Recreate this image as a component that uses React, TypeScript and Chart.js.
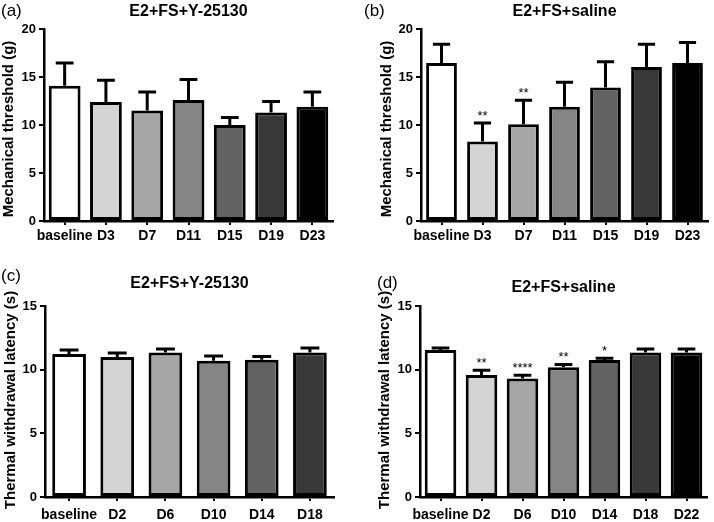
import React, { useEffect, useRef } from "react";
import { Chart, registerables } from "chart.js";
Chart.register(...registerables);

// ---- data ----
const mechLabels = ["baseline", "D3", "D7", "D11", "D15", "D19", "D23"];
const mechYMean = [14.1, 12.4, 11.5, 12.6, 10.0, 11.3, 11.9];
const mechYSem = [2.35, 2.25, 1.95, 2.15, 0.77, 1.15, 1.53];
const mechYSig = ["", "", "", "", "", "", ""];

const mechSMean = [16.45, 8.27, 10.07, 11.9, 13.9, 16.05, 16.45];
const mechSSem = [1.95, 1.93, 2.5, 2.55, 2.7, 2.35, 2.14];
const mechSSig = ["", "**", "**", "", "", "", ""];

const thermYLabels = ["baseline", "D2", "D6", "D10", "D14", "D18"];
const thermYMean = [11.24, 11.0, 11.34, 10.7, 10.77, 11.34];
const thermYSem = [0.3, 0.3, 0.28, 0.38, 0.26, 0.36];
const thermYSig = ["", "", "", "", "", ""];

const thermSLabels = ["baseline", "D2", "D6", "D10", "D14", "D18", "D22"];
const thermSMean = [11.55, 9.59, 9.3, 10.18, 10.75, 11.34, 11.34];
const thermSSem = [0.15, 0.36, 0.26, 0.23, 0.15, 0.28, 0.28];
const thermSSig = ["", "**", "****", "**", "*", "", ""];

const grays7 = ["#ffffff", "#d4d4d4", "#a6a6a6", "#858585", "#626262", "#383838", "#000000"];
const grays6 = ["#ffffff", "#d4d4d4", "#a6a6a6", "#858585", "#626262", "#383838"];

const FONT = '"Liberation Sans", Arial, sans-serif';

type PanelProps = {
  x: number; y: number; w: number; h: number;
  labels: string[]; mean: number[]; sem: number[]; sig: string[]; colors: string[];
  title: string; letter: string; yTitle: string;
  yMax: number; yStep: number;
  area: { left: number; right: number; top: number; bottom: number };
  titleY: number; letterX: number; letterY: number;
  yTitleX: number; yTitleY: number; xLabelPad: number; barPct: number;
};

function Panel(p: PanelProps) {
  const ref = useRef<HTMLCanvasElement | null>(null);
  useEffect(() => {
    if (!ref.current) return;
    const overlay = {
      id: "overlay",
      afterDatasetsDraw(chart: any) {
        const ctx = chart.ctx as CanvasRenderingContext2D;
        const meta = chart.getDatasetMeta(0);
        const ys = chart.scales.y;
        ctx.save();
        ctx.strokeStyle = "#000";
        ctx.fillStyle = "#000";
        ctx.lineWidth = 3;
        meta.data.forEach((bar: any, i: number) => {
          const bx = bar.x;
          const top = ys.getPixelForValue(p.mean[i] + p.sem[i]);
          const base = ys.getPixelForValue(p.mean[i]);
          const half = bar.width * 0.28;
          ctx.beginPath();
          ctx.moveTo(bx, base);
          ctx.lineTo(bx, top);
          ctx.moveTo(bx - half, top);
          ctx.lineTo(bx + half, top);
          ctx.stroke();
          if (p.sig[i]) {
            ctx.font = "13px " + FONT;
            ctx.textAlign = "center";
            ctx.textBaseline = "alphabetic";
            ctx.fillText(p.sig[i], bx, top - 3);
          }
        });
        const ca = chart.chartArea;
        ctx.font = "bold 16px " + FONT;
        ctx.textAlign = "center";
        ctx.textBaseline = "middle";
        ctx.fillText(p.title, (ca.left + ca.right) / 2, p.titleY);
        ctx.font = "17px " + FONT;
        ctx.textAlign = "left";
        ctx.fillText(p.letter, p.letterX, p.letterY);
        ctx.save();
        ctx.translate(p.yTitleX, p.yTitleY);
        ctx.rotate(-Math.PI / 2);
        ctx.font = "bold 15px " + FONT;
        ctx.textAlign = "center";
        ctx.fillText(p.yTitle, 0, 0);
        ctx.restore();
        ctx.restore();
      },
    };
    const chart = new Chart(ref.current, {
      type: "bar",
      data: {
        labels: p.labels,
        datasets: [
          {
            data: p.mean,
            backgroundColor: p.colors,
            borderColor: "#000",
            borderWidth: 3,
            borderSkipped: false,
            barPercentage: p.barPct,
            categoryPercentage: 1,
          },
        ],
      },
      options: {
        responsive: false,
        animation: false,
        devicePixelRatio: 1,
        layout: {
          padding: { left: 0, top: p.area.top, right: p.w - p.area.right, bottom: 0 },
        },
        plugins: { legend: { display: false }, tooltip: { enabled: false }, title: { display: false } },
        scales: {
          x: {
            grid: { display: true, drawOnChartArea: false, offset: false, tickLength: 4, color: "#000", tickColor: "#000", tickWidth: 2, lineWidth: 2 },
            border: { display: true, color: "#000", width: 2.5 },
            ticks: { color: "#000", font: { size: 14, weight: "bold", family: FONT }, padding: p.xLabelPad, maxRotation: 0, autoSkip: false },
            afterFit: (s: any) => { s.height = p.h - p.area.bottom; },
          },
          y: {
            min: 0,
            max: p.yMax,
            grid: { display: true, drawOnChartArea: false, tickLength: 5, color: "#000", tickColor: "#000", tickWidth: 2, lineWidth: 2 },
            border: { display: true, color: "#000", width: 2.5 },
            ticks: { stepSize: p.yStep, color: "#000", font: { size: 13, weight: "bold", family: FONT }, padding: 3 },
            afterFit: (s: any) => { s.width = p.area.left; },
          },
        },
      },
      plugins: [overlay],
    } as any);
    return () => chart.destroy();
  }, []);
  return (
    <canvas
      ref={ref}
      width={p.w}
      height={p.h}
      style={{ position: "absolute", left: p.x, top: p.y, width: p.w, height: p.h }}
    />
  );
}

export default function App() {
  return (
    <div style={{ position: "absolute", left: 0, top: 0, width: 714, height: 522, background: "#fff", overflow: "hidden" }}>
      <Panel
        x={0} y={0} w={357} h={261}
        labels={mechLabels} mean={mechYMean} sem={mechYSem} sig={mechYSig} colors={grays7}
        title="E2+FS+Y-25130" letter="(a)" yTitle="Mechanical threshold (g)"
        yMax={20} yStep={5}
        area={{ left: 44, right: 333, top: 29, bottom: 221 }}
        titleY={12} letterX={1} letterY={11}
        yTitleX={9} yTitleY={129} xLabelPad={3} barPct={0.77}
      />
      <Panel
        x={357} y={0} w={357} h={261}
        labels={mechLabels} mean={mechSMean} sem={mechSSem} sig={mechSSig} colors={grays7}
        title="E2+FS+saline" letter="(b)" yTitle="Mechanical threshold (g)"
        yMax={20} yStep={5}
        area={{ left: 64, right: 351, top: 29, bottom: 221 }}
        titleY={12} letterX={7} letterY={11}
        yTitleX={30} yTitleY={129} xLabelPad={3} barPct={0.75}
      />
      <Panel
        x={0} y={261} w={357} h={261}
        labels={thermYLabels} mean={thermYMean} sem={thermYSem} sig={thermYSig} colors={grays6}
        title="E2+FS+Y-25130" letter="(c)" yTitle="Thermal withdrawal latency (s)"
        yMax={15} yStep={5}
        area={{ left: 45, right: 334, top: 45, bottom: 236 }}
        titleY={23} letterX={1} letterY={15}
        yTitleX={11} yTitleY={139} xLabelPad={6} barPct={0.7}
      />
      <Panel
        x={357} y={261} w={357} h={261}
        labels={thermSLabels} mean={thermSMean} sem={thermSSem} sig={thermSSig} colors={grays7}
        title="E2+FS+saline" letter="(d)" yTitle="Thermal withdrawal latency (s)"
        yMax={15} yStep={5}
        area={{ left: 63, right: 350, top: 45, bottom: 236 }}
        titleY={27} letterX={20} letterY={22}
        yTitleX={28} yTitleY={139} xLabelPad={6} barPct={0.77}
      />
    </div>
  );
}
